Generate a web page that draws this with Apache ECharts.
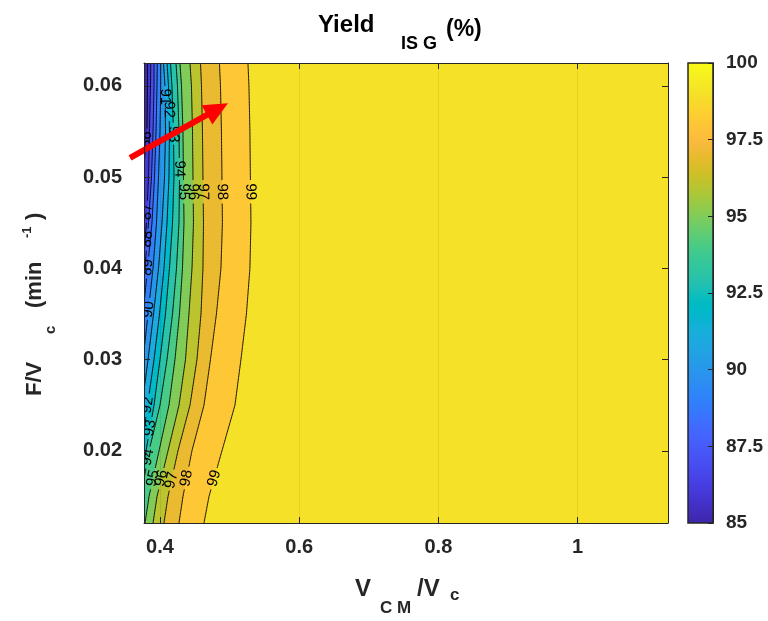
<!DOCTYPE html>
<html><head><meta charset="utf-8">
<script src="https://cdn.jsdelivr.net/npm/echarts@6/dist/echarts.min.js"></script>
<style>html,body{margin:0;padding:0;background:#fff}#c{width:768px;height:621px}</style>
</head><body><div id="c"></div>
<script>
// ---- axis ranges ----
const xMin = 0.377, xMax = 1.13;
const yMin = 0.0121, yMax = 0.0625;
const cbarMin = 85, cbarMax = 100, cbarStep = 2.5;

// ---- contour lines: x position (V_CM/V_c) of each level at each F/V_c sample ----
const yGrid = [0.0625, 0.06, 0.055, 0.05, 0.045, 0.04, 0.035, 0.03, 0.025, 0.02, 0.015, 0.0121];
const levels = [86, 87, 88, 89, 90, 91, 92, 93, 94, 95, 96, 97, 98, 99];
const c86 = [0.3821, 0.3821, 0.3813, 0.3756, 0.3699, 0.3655, 0.3627, 0.3598, 0.3569, 0.3541, 0.3512, 0.3498];
const c87 = [0.3867, 0.3864, 0.3849, 0.3835, 0.3806, 0.3756, 0.3713, 0.3670, 0.3627, 0.3584, 0.3541, 0.3526];
const c88 = [0.3914, 0.3914, 0.3900, 0.3878, 0.3835, 0.3785, 0.3727, 0.3684, 0.3641, 0.3598, 0.3555, 0.3541];
const c89 = [0.3961, 0.3957, 0.3943, 0.3921, 0.3885, 0.3821, 0.3756, 0.3699, 0.3655, 0.3612, 0.3569, 0.3555];
const c90 = [0.4010, 0.4010, 0.4000, 0.3979, 0.3950, 0.3900, 0.3828, 0.3756, 0.3699, 0.3641, 0.3598, 0.3584];
const c91 = [0.4050, 0.4072, 0.4079, 0.4065, 0.4029, 0.3979, 0.3907, 0.3828, 0.3742, 0.3670, 0.3612, 0.3598];
const c92 = [0.4101, 0.4122, 0.4136, 0.4129, 0.4101, 0.4057, 0.3993, 0.3914, 0.3821, 0.3727, 0.3655, 0.3627];
const c93 = [0.4151, 0.4172, 0.4194, 0.4201, 0.4180, 0.4136, 0.4079, 0.4000, 0.3914, 0.3799, 0.3713, 0.3670];
const c94 = [0.4230, 0.4251, 0.4273, 0.4280, 0.4273, 0.4237, 0.4180, 0.4101, 0.4000, 0.3842, 0.3727, 0.3684];
const c95 = [0.4287, 0.4309, 0.4330, 0.4337, 0.4345, 0.4323, 0.4280, 0.4215, 0.4129, 0.3986, 0.3842, 0.3785];
const c96 = [0.4431, 0.4452, 0.4467, 0.4474, 0.4481, 0.4460, 0.4416, 0.4366, 0.4273, 0.4115, 0.3957, 0.3900];
const c97 = [0.4582, 0.4596, 0.4610, 0.4617, 0.4625, 0.4617, 0.4589, 0.4531, 0.4431, 0.4258, 0.4115, 0.4057];
const c98 = [0.4854, 0.4869, 0.4883, 0.4890, 0.4897, 0.4876, 0.4811, 0.4725, 0.4632, 0.4459, 0.4330, 0.4273];
const c99 = [0.5264, 0.5278, 0.5292, 0.5299, 0.5307, 0.5292, 0.5242, 0.5163, 0.5077, 0.4890, 0.4704, 0.4632];
const contourX = [c86, c87, c88, c89, c90, c91, c92, c93, c94, c95, c96, c97, c98, c99];

// ---- contour labels: level and F/V_c where the label sits ----
const labelLevels = [86, 87, 88, 89, 90, 91, 92, 93, 94, 95, 96, 97, 98, 99, 92, 93, 94, 95, 96, 97, 98, 99];
const labelY = [0.0541, 0.0462, 0.0432, 0.0401, 0.0355, 0.0588, 0.0574, 0.0547, 0.0509, 0.0484, 0.0484, 0.0484, 0.0484, 0.0484,
                0.0250, 0.0225, 0.0193, 0.0170, 0.0170, 0.0168, 0.0170, 0.0170];

// ---- arrow annotation (data coordinates) ----
const arrowFrom = [0.357, 0.0521];
const arrowTo = [0.4976, 0.0581];

// ---- parula colormap ----
const PARULA = [
[0.2422,0.1504,0.6603],[0.2504,0.1650,0.7076],[0.2578,0.1818,0.7511],[0.2647,0.1978,0.7952],[0.2706,0.2147,0.8364],
[0.2751,0.2342,0.8710],[0.2783,0.2559,0.8991],[0.2803,0.2782,0.9221],[0.2813,0.3006,0.9414],[0.2810,0.3228,0.9579],
[0.2795,0.3447,0.9717],[0.2760,0.3667,0.9829],[0.2699,0.3892,0.9906],[0.2602,0.4123,0.9952],[0.2440,0.4358,0.9988],
[0.2206,0.4603,0.9973],[0.1963,0.4847,0.9892],[0.1834,0.5074,0.9798],[0.1786,0.5289,0.9682],[0.1764,0.5499,0.9520],
[0.1687,0.5703,0.9359],[0.1540,0.5902,0.9218],[0.1460,0.6091,0.9079],[0.1380,0.6276,0.8973],[0.1248,0.6459,0.8883],
[0.1113,0.6635,0.8763],[0.0952,0.6798,0.8598],[0.0689,0.6948,0.8394],[0.0297,0.7082,0.8163],[0.0036,0.7203,0.7917],
[0.0067,0.7312,0.7660],[0.0433,0.7411,0.7394],[0.0964,0.7500,0.7120],[0.1408,0.7584,0.6842],[0.1717,0.7670,0.6554],
[0.1938,0.7758,0.6251],[0.2161,0.7843,0.5923],[0.2470,0.7918,0.5567],[0.2906,0.7973,0.5188],[0.3406,0.8008,0.4789],
[0.3909,0.8029,0.4354],[0.4456,0.8024,0.3909],[0.5044,0.7993,0.3480],[0.5616,0.7942,0.3045],[0.6174,0.7876,0.2612],
[0.6720,0.7793,0.2227],[0.7242,0.7698,0.1910],[0.7738,0.7598,0.1646],[0.8203,0.7498,0.1535],[0.8634,0.7406,0.1596],
[0.9035,0.7330,0.1774],[0.9393,0.7288,0.2100],[0.9728,0.7298,0.2394],[0.9956,0.7434,0.2371],[0.9970,0.7659,0.2199],
[0.9952,0.7893,0.2028],[0.9892,0.8136,0.1885],[0.9786,0.8386,0.1766],[0.9676,0.8639,0.1643],[0.9610,0.8890,0.1537],
[0.9597,0.9135,0.1423],[0.9628,0.9373,0.1265],[0.9691,0.9606,0.1064],[0.9769,0.9839,0.0805]];
function parula(t) {
  t = Math.max(0, Math.min(1, t));
  const f = t * (PARULA.length - 1), i = Math.floor(f), r = f - i;
  const a = PARULA[i], b = PARULA[Math.min(i + 1, PARULA.length - 1)];
  const c = a.map((v, k) => Math.round(255 * (v + (b[k] - v) * r)));
  return 'rgb(' + c.join(',') + ')';
}
function levelColor(v) { return parula((v - cbarMin) / (cbarMax - cbarMin)); }

const FONT = '"Liberation Sans", Arial, Helvetica, sans-serif';
const AX = '#262626';

function contourPx(api, i) { return yGrid.map((y, k) => api.coord([contourX[i][k], y])); }
function labelPos(api, j) {
  const i = levels.indexOf(labelLevels[j]);
  const y = labelY[j], cx = contourX[i];
  let k = 0;
  while (k < yGrid.length - 2 && yGrid[k + 1] > y) k++;
  const t = (yGrid[k] - y) / (yGrid[k] - yGrid[k + 1]);
  const x = cx[k] + t * (cx[k + 1] - cx[k]);
  const p = api.coord([x, y]);
  const p0 = api.coord([cx[k], yGrid[k]]), p1 = api.coord([cx[k + 1], yGrid[k + 1]]);
  let ang = Math.atan2(p1[1] - p0[1], p0[0] - p1[0]);   // direction going up, in (0, pi)
  if (ang > Math.PI / 2 + 1e-6) ang -= Math.PI;          // keep text upright like MATLAB clabel
  return { x: p[0], y: p[1], angle: ang, level: labelLevels[j] };
}

const chart = echarts.init(document.getElementById('c'), null, { renderer: 'canvas' });

const option = {
  animation: false,
  backgroundColor: '#ffffff',
  grid: [
    { left: 144, top: 63, width: 524, height: 460 },
    { left: 688, top: 63, width: 25, height: 460 }
  ],
  xAxis: [
    { gridIndex: 0, type: 'value', min: xMin, max: xMax, splitNumber: 4, position: 'bottom', z: 10,
      axisLine: { show: true, onZero: false, lineStyle: { color: AX, width: 1 } },
      axisTick: { show: true, inside: true, length: 6, lineStyle: { color: AX, width: 1 } },
      axisLabel: { show: true, showMinLabel: false, showMaxLabel: false, margin: 14, color: AX,
                   fontSize: 20, fontWeight: 'bold', fontFamily: FONT },
      splitLine: { show: true, lineStyle: { color: 'rgba(0,0,0,0.07)', width: 1 } } },
    { gridIndex: 0, type: 'value', min: xMin, max: xMax, splitNumber: 4, position: 'top', z: 10,
      axisLine: { show: true, onZero: false, lineStyle: { color: AX, width: 1 } },
      axisTick: { show: true, inside: true, length: 6, lineStyle: { color: AX, width: 1 } },
      axisLabel: { show: false }, splitLine: { show: false } },
    { gridIndex: 1, type: 'value', min: 0, max: 1, show: false }
  ],
  yAxis: [
    { gridIndex: 0, type: 'value', min: yMin, max: yMax, splitNumber: 5, position: 'left', z: 10,
      axisLine: { show: true, onZero: false, lineStyle: { color: AX, width: 1 } },
      axisTick: { show: true, inside: true, length: 6, lineStyle: { color: AX, width: 1 } },
      axisLabel: { show: true, showMinLabel: false, showMaxLabel: false, margin: 22, color: AX,
                   fontSize: 20, fontWeight: 'bold', fontFamily: FONT },
      splitLine: { show: false } },
    { gridIndex: 0, type: 'value', min: yMin, max: yMax, splitNumber: 5, position: 'right', z: 10,
      axisLine: { show: true, onZero: false, lineStyle: { color: AX, width: 1 } },
      axisTick: { show: true, inside: true, length: 6, lineStyle: { color: AX, width: 1 } },
      axisLabel: { show: false }, splitLine: { show: false } },
    { gridIndex: 1, type: 'value', min: cbarMin, max: cbarMax, interval: cbarStep, position: 'right', z: 10,
      axisLine: { show: true, onZero: false, lineStyle: { color: AX, width: 1 } },
      axisTick: { show: true, inside: true, length: 5, lineStyle: { color: AX, width: 1 } },
      axisLabel: { show: true, margin: 13, color: AX, fontSize: 19, fontWeight: 'bold', fontFamily: FONT },
      splitLine: { show: false } }
  ],
  series: [
    // filled bands (painter's order: base, then region right of each contour)
    { type: 'custom', xAxisIndex: 0, yAxisIndex: 0, clip: true, z: 1, silent: true,
      data: [[-1]].concat(levels.map((l, i) => [i])),
      renderItem: function (params, api) {
        const i = api.value(0);
        if (i < 0) {
          const a = api.coord([xMin, yMax]), b = api.coord([xMax, yMin]);
          return { type: 'rect', shape: { x: a[0], y: a[1], width: b[0] - a[0], height: b[1] - a[1] },
                   style: { fill: levelColor(cbarMin) } };
        }
        const n = yGrid.length;
        const pts = [api.coord([contourX[i][0], yMax + 0.005])]
          .concat(contourPx(api, i))
          .concat([api.coord([contourX[i][n - 1], yMin - 0.005]),
                   api.coord([xMax + 0.05, yMin - 0.005]),
                   api.coord([xMax + 0.05, yMax + 0.005])]);
        return { type: 'polygon', shape: { points: pts }, style: { fill: levelColor(levels[i]) } };
      } },
    // contour lines with gaps at labels
    { type: 'custom', xAxisIndex: 0, yAxisIndex: 0, clip: true, z: 2, silent: true,
      data: levels.map((l, i) => [i]),
      renderItem: function (params, api) {
        const i = api.value(0);
        const pts = contourPx(api, i);
        const labs = [];
        for (let j = 0; j < labelLevels.length; j++) if (labelLevels[j] === levels[i]) labs.push(labelPos(api, j));
        const dense = [];
        for (let k = 0; k < pts.length - 1; k++) {
          const a = pts[k], b = pts[k + 1];
          const n = Math.max(1, Math.ceil(Math.hypot(b[0] - a[0], b[1] - a[1]) / 1.5));
          for (let s = 0; s < n; s++) dense.push([a[0] + (b[0] - a[0]) * s / n, a[1] + (b[1] - a[1]) * s / n]);
        }
        dense.push(pts[pts.length - 1]);
        const runs = []; let cur = [];
        dense.forEach(p => {
          const hidden = labs.some(L => Math.hypot(p[0] - L.x, p[1] - L.y) < 10.5);
          if (hidden) { if (cur.length > 1) runs.push(cur); cur = []; }
          else cur.push(p);
        });
        if (cur.length > 1) runs.push(cur);
        return { type: 'group', children: runs.map(r => ({ type: 'polyline', shape: { points: r },
                 style: { stroke: '#000', lineWidth: 0.9, fill: null } })) };
      } },
    // contour labels
    { type: 'custom', xAxisIndex: 0, yAxisIndex: 0, clip: true, z: 3, silent: true,
      data: labelLevels.map((l, j) => [j]),
      renderItem: function (params, api) {
        const L = labelPos(api, api.value(0));
        return { type: 'text', x: L.x, y: L.y, rotation: L.angle,
                 style: { text: String(L.level), fill: '#000', fontSize: 15, fontFamily: FONT,
                          align: 'center', verticalAlign: 'middle' } };
      } },
    // arrow
    { type: 'custom', xAxisIndex: 0, yAxisIndex: 0, clip: false, z: 5, silent: true,
      data: [[arrowFrom[0], arrowFrom[1], arrowTo[0], arrowTo[1]]],
      renderItem: function (params, api) {
        const a = api.coord([api.value(0), api.value(1)]), b = api.coord([api.value(2), api.value(3)]);
        const dx = b[0] - a[0], dy = b[1] - a[1], len = Math.hypot(dx, dy);
        const ux = dx / len, uy = dy / len, nx = -uy, ny = ux;
        const hl = 24, hw = 11;
        const base = [b[0] - ux * hl, b[1] - uy * hl];
        return { type: 'group', children: [
          { type: 'line', shape: { x1: a[0], y1: a[1], x2: base[0] + ux * 2, y2: base[1] + uy * 2 },
            style: { stroke: '#ff0000', lineWidth: 6 } },
          { type: 'polygon', shape: { points: [b, [base[0] + nx * hw, base[1] + ny * hw], [base[0] - nx * hw, base[1] - ny * hw]] },
            style: { fill: '#ff0000' } }
        ] };
      } },
    // colorbar
    { type: 'custom', xAxisIndex: 2, yAxisIndex: 2, clip: false, z: 1, silent: true,
      data: [[0, cbarMin, 1, cbarMax]],
      renderItem: function (params, api) {
        const a = api.coord([api.value(0), api.value(3)]), b = api.coord([api.value(2), api.value(1)]);
        const stops = PARULA.map((c, k) => ({ offset: 1 - k / (PARULA.length - 1),
          color: 'rgb(' + c.map(v => Math.round(v * 255)).join(',') + ')' }));
        return { type: 'rect', shape: { x: a[0], y: a[1], width: b[0] - a[0], height: b[1] - a[1] },
                 style: { fill: new echarts.graphic.LinearGradient(0, 0, 0, 1, stops.reverse()),
                          stroke: AX, lineWidth: 1.5 } };
      } }
  ],
  graphic: [
    // title
    { type: 'text', x: 318, y: 37, style: { text: 'Yield', font: 'bold 24px ' + FONT, fill: '#000', verticalAlign: 'bottom' } },
    { type: 'text', x: 401, y: 53, style: { text: 'IS G', font: 'bold 18px ' + FONT, fill: '#000', verticalAlign: 'bottom' } },
    { type: 'text', x: 446, y: 41, style: { text: '(%)', font: 'bold 23px ' + FONT, fill: '#000', verticalAlign: 'bottom' } },
    // x axis name
    { type: 'text', x: 355, y: 601, style: { text: 'V', font: 'bold 24px ' + FONT, fill: AX, verticalAlign: 'bottom' } },
    { type: 'text', x: 380, y: 617, style: { text: 'C M', font: 'bold 17px ' + FONT, fill: AX, verticalAlign: 'bottom' } },
    { type: 'text', x: 417, y: 601, style: { text: '/V', font: 'bold 24px ' + FONT, fill: AX, verticalAlign: 'bottom' } },
    { type: 'text', x: 450, y: 604, style: { text: 'c', font: 'bold 17px ' + FONT, fill: AX, verticalAlign: 'bottom' } },
    // y axis name (rotated)
    { type: 'text', x: 46, y: 396, rotation: Math.PI / 2, style: { text: 'F/V', font: 'bold 22px ' + FONT, fill: AX, verticalAlign: 'bottom' } },
    { type: 'text', x: 58, y: 334, rotation: Math.PI / 2, style: { text: 'c', font: 'bold 15px ' + FONT, fill: AX, verticalAlign: 'bottom' } },
    { type: 'text', x: 46, y: 308, rotation: Math.PI / 2, style: { text: '(min', font: 'bold 22px ' + FONT, fill: AX, verticalAlign: 'bottom' } },
    { type: 'text', x: 34, y: 238, rotation: Math.PI / 2, style: { text: '-1', font: 'bold 13px ' + FONT, fill: AX, verticalAlign: 'bottom' } },
    { type: 'text', x: 46, y: 220, rotation: Math.PI / 2, style: { text: ')', font: 'bold 22px ' + FONT, fill: AX, verticalAlign: 'bottom' } }
  ]
};
chart.setOption(option);
</script>
</body></html>
